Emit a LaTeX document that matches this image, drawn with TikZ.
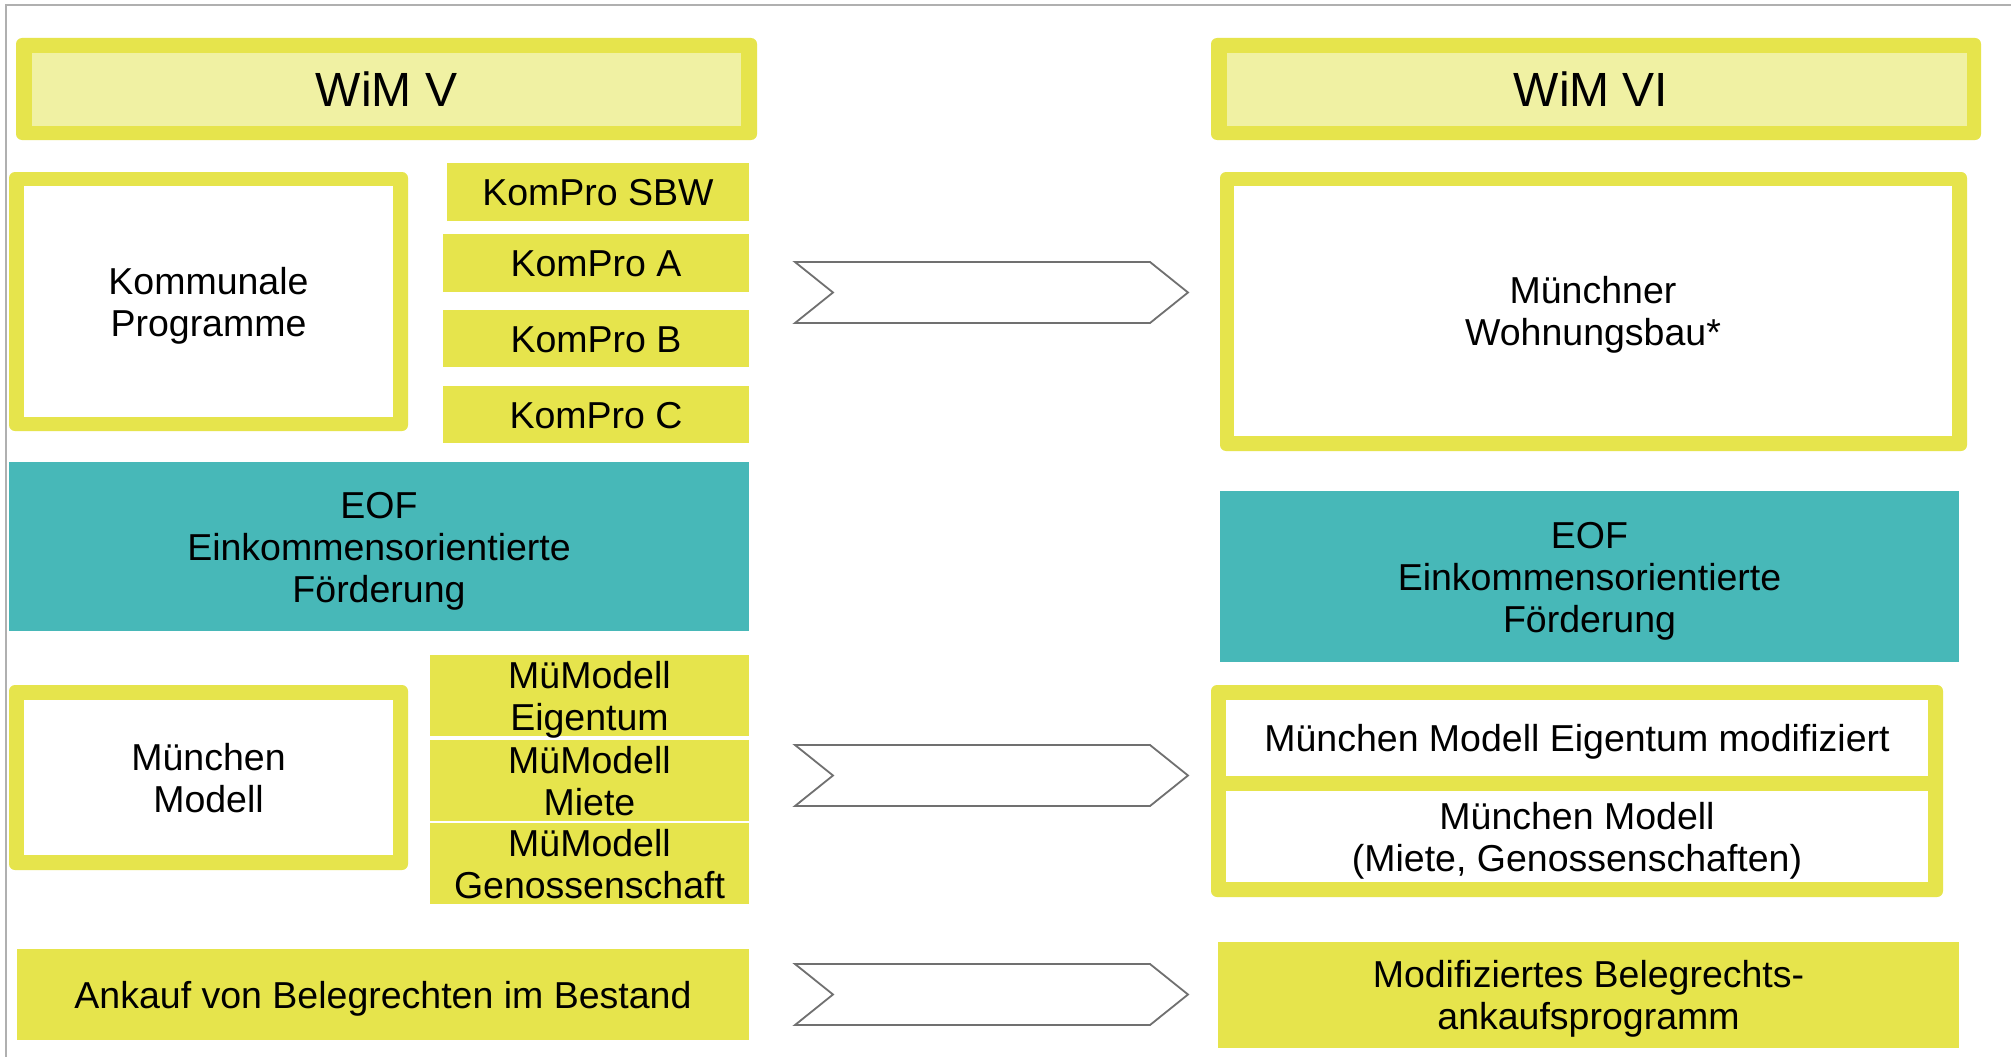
\documentclass[tikz,border=0pt]{standalone}
\usepackage{fontspec}
\setmainfont{Liberation Sans}
\definecolor{ybord}{HTML}{E6E44C}
\definecolor{ylight}{HTML}{F0F1A3}
\definecolor{teal1}{HTML}{47B8B8}
\definecolor{arrgray}{HTML}{707070}
\definecolor{framegray}{HTML}{B0B0B0}
\begin{document}
\begin{tikzpicture}[x=1pt,y=-1pt,
  every node/.style={inner sep=0pt, outer sep=0pt, align=center,
    font=\fontsize{37.5}{42}\selectfont, text height=27pt, text depth=0pt},
  twolines/.style={text height=69pt},
  threelines/.style={text height=111pt},
  outerbox/.style={fill=ybord, rounded corners=6pt},
  headbox/.style={fill=ylight, font=\fontsize{48}{54}\selectfont, text height=34.5pt},
  whitebox/.style={fill=white},
  ybox/.style={fill=ybord},
  tbox/.style={fill=teal1},
  chev/.style={draw=arrgray, line width=1.8pt, fill=white, line join=miter}]
\useasboundingbox (0,0) rectangle (2011,1057);
\fill[white] (0,0) rectangle (2011,1057);
% frame lines
\coordinate (ftl) at (6,5);
\coordinate (ftr) at (2011,5);
\coordinate (fbl) at (6,1057);
\draw[framegray, line width=2pt] (fbl) -- (ftl) -- (ftr);

% headers
\node[outerbox, minimum width=741, minimum height=102] (wimVo) at (386.5,89) {};
\node[headbox, minimum width=709, minimum height=73] (wimV) at (386.5,89.5) {WiM V};
\node[outerbox, minimum width=770, minimum height=102] (wimVIo) at (1596,89) {};
\node[headbox, minimum width=740, minimum height=73] (wimVI) at (1597,89.5) {WiM VI\hspace*{12pt}};

% Kommunale Programme
\node[outerbox, minimum width=399, minimum height=259] (komo) at (208.5,301.5) {};
\node[whitebox, twolines, minimum width=369, minimum height=231] (kom) at (208.5,301.5) {Kommunale\\Programme};
\node[ybox, minimum width=302, minimum height=58] (sbw) at (598,192) {KomPro SBW};
\node[ybox, minimum width=306, minimum height=58] (kpa) at (596,263) {KomPro A};
\node[ybox, minimum width=306, minimum height=57] (kpb) at (596,338.5) {KomPro B};
\node[ybox, minimum width=306, minimum height=57] (kpc) at (596,414.5) {KomPro C};

% EOF left
\node[tbox, threelines, minimum width=740, minimum height=169] (eofl) at (379,546.5) {EOF\\Einkommensorientierte\\Förderung};

% München Modell left
\node[outerbox, minimum width=399, minimum height=185] (mmo) at (208.5,777.5) {};
\node[whitebox, twolines, minimum width=369, minimum height=155] (mm) at (208.5,777.5) {München\\Modell};
\node[ybox, twolines, minimum width=319, minimum height=81] (mue) at (589.5,695.5) {MüModell\\Eigentum};
\node[ybox, twolines, minimum width=319, minimum height=81] (mum) at (589.5,780.5) {MüModell\\Miete};
\node[ybox, twolines, minimum width=319, minimum height=81] (mug) at (589.5,863.5) {MüModell\\Genossenschaft};

% Ankauf
\node[ybox, minimum width=732, minimum height=91] (ank) at (383,994.5) {Ankauf von Belegrechten im Bestand};

% right column
\node[outerbox, minimum width=747, minimum height=279] (mwo) at (1593.5,311.5) {};
\node[whitebox, twolines, minimum width=718, minimum height=250] (mw) at (1593,311) {Münchner\\Wohnungsbau*};
\node[tbox, threelines, minimum width=739, minimum height=171] (eofr) at (1589.5,576.5) {EOF\\Einkommensorientierte\\Förderung};
\node[outerbox, minimum width=732, minimum height=212] (rmo) at (1577,791) {};
\node[whitebox, minimum width=702, minimum height=76] (rme) at (1577,738) {München Modell Eigentum modifiziert};
\node[whitebox, twolines, minimum width=702, minimum height=91] (rmm) at (1577,836.5) {München Modell\\(Miete, Genossenschaften)};
\node[ybox, twolines, minimum width=741, minimum height=106] (mod) at (1588.5,995) {Modifiziertes Belegrechts-\\ankaufsprogramm};

% chevron arrows
\coordinate (a1) at (795,262);
\coordinate (a2) at (795,745);
\coordinate (a3) at (795,964);
\foreach \c in {a1,a2,a3}{
  \draw[chev] (\c) -- ++(355,0) -- ++(38,30.5) -- ++(-38,30.5) -- ++(-355,0) -- ++(38,-30.5) -- cycle;
}
\end{tikzpicture}
\end{document}
